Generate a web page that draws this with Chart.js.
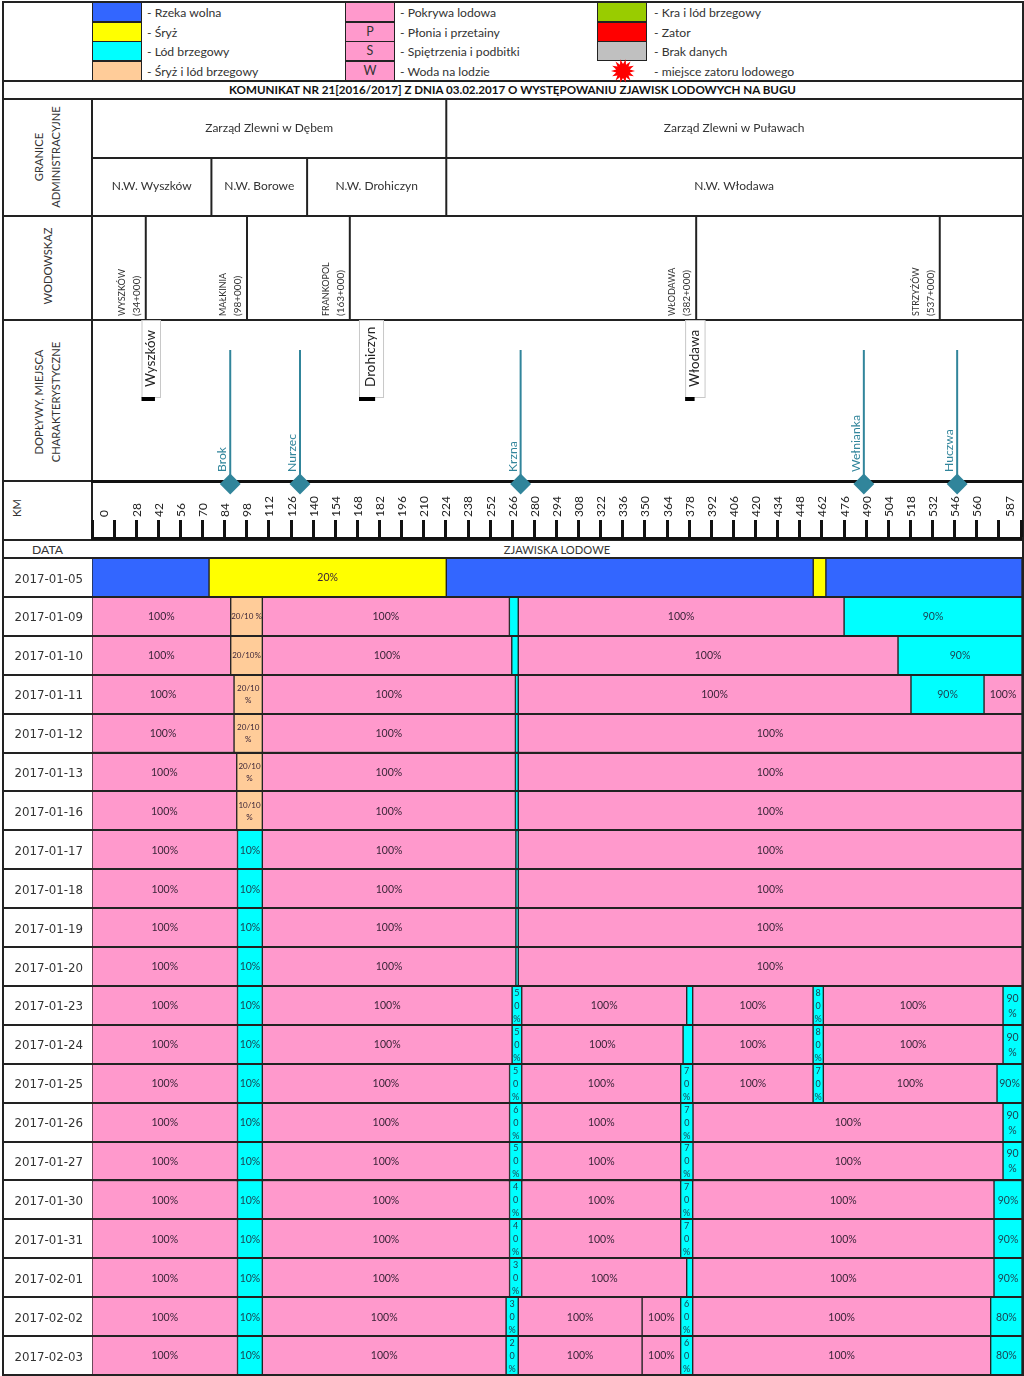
<!DOCTYPE html>
<html lang="pl">
<head>
<meta charset="utf-8">
<title>Komunikat 21</title>
<script src="https://cdn.jsdelivr.net/npm/chart.js@4"></script>
<style>
html,body{margin:0;padding:0;background:#fff;}
#page{position:relative;width:1024px;height:1376px;overflow:hidden;font-family:Lato,sans-serif;color:#333;}
#page canvas{position:absolute;left:0;}
.h{position:absolute;background:#222;height:2px;}
.v{position:absolute;background:#222;width:2px;}
.sw{position:absolute;width:50px;box-sizing:border-box;border:1px solid #222;text-align:center;font-size:12.5px;line-height:18px;}
.t{position:absolute;font-size:12.2px;line-height:19px;white-space:nowrap;}
.rot{position:absolute;font-size:11.2px;line-height:17px;text-align:center;white-space:nowrap;transform:translate(-50%,-50%) rotate(-90deg);}
</style>
</head>
<body>
<div id="page">
  <canvas id="topChart" width="1024" height="400" style="top:100px;z-index:2"></canvas>
  <canvas id="kmChart" width="1024" height="52" style="top:490px;z-index:1"></canvas>
  <canvas id="rowsChart" width="1024" height="819" style="top:557px;z-index:1"></canvas>
</div>
<script>
// km axis
const kmMax = 588;
const tickValues = [0,7,14,28,42,56,70,84,98,112,126,140,154,168,182,196,210,224,238,252,266,280,294,308,322,336,350,364,378,392,406,420,434,448,462,476,490,504,518,532,546,560,574,581,588];
const tickLabels = ['','0','','28','42','56','70','84','98','112','126','140','154','168','182','196','210','224','238','252','266','280','294','308','322','336','350','364','378','392','406','420','434','448','462','476','490','504','518','532','546','560','','587',''];
const labelOnlyTicks = [7,581];

// header
const adminNames = ['Zarząd Zlewni w Dębem','Zarząd Zlewni w Puławach'];
const adminEnds = [224,588];
const unitNames = ['N.W. Wyszków','N.W. Borowe','N.W. Drohiczyn','N.W. Włodawa'];
const unitEnds = [75.5,136,224,588];
const gaugeNames = ['WYSZKÓW','MAŁKINIA','FRANKOPOL','WŁODAWA','STRZYŻÓW'];
const gaugeChain = ['(34+000)','(98+000)','(163+000)','(382+000)','(537+000)'];
const gaugeKm = [34,98,163,382,536];
const tribNames = ['Brok','Nurzec','Krzna','Wełnianka','Huczwa'];
const tribKm = [87.4,131.5,271,488,547];
const townNames = ['Wyszków','Drohiczyn','Włodawa'];
const townBoxFrom = [31.3,168.8,375];
const townBoxTo = [43,184,387.3];
const townBarTo = [39.8,179,381];

// rows
const dates = ['2017-01-05','2017-01-09','2017-01-10','2017-01-11','2017-01-12','2017-01-13','2017-01-16','2017-01-17','2017-01-18','2017-01-19','2017-01-20','2017-01-23','2017-01-24','2017-01-25','2017-01-26','2017-01-27','2017-01-30','2017-01-31','2017-02-01','2017-02-02','2017-02-03'];
const segEnds = [
  [74,224,456,464,588],
  [87.7,107.7,263.9,269.5,475.5,588],
  [87.7,107.7,265.4,269.5,509.6,588],
  [89.8,107.7,267.7,269.5,517.8,564,588],
  [89.8,107.7,267.7,269.5,588],
  [91.5,107.7,267.7,269.5,588],
  [91.5,107.7,267.7,269.5,588],
  [92,107.7,268,269.5,588],
  [92,107.7,268,269.5,588],
  [92,107.7,268,269.5,588],
  [92,107.7,268,269.5,588],
  [92,107.7,265.6,271.7,376,379.8,455.9,462.4,576,588],
  [92,107.7,265.6,271.7,373.7,379.8,455.9,462.4,576,588],
  [92,107.7,264,271.7,372.2,379.8,455.9,462.4,572.2,588],
  [92,107.7,264,271.9,372.2,380,576,588],
  [92,107.7,264,271.9,372.2,380,576,588],
  [92,107.7,264,271.7,372.2,379.8,570.3,588],
  [92,107.7,264,271.7,372.2,379.8,570.3,588],
  [92,107.7,264,271.7,376,379.8,570.3,588],
  [92,107.7,261.8,269.5,347.8,372.2,379.8,568.2,588],
  [92,107.7,261.8,269.5,347.8,372.2,379.8,568.2,588]
];
// R rzeka wolna, S sryz, L lod brzegowy, M sryz i lod, P pokrywa
const segKinds = ['RSRSR','PMPLPL','PMPLPL','PMPLPLP','PMPLP','PMPLP','PMPLP','PLPLP','PLPLP','PLPLP','PLPLP','PLPLPLPLPL','PLPLPLPLPL','PLPLPLPLPL','PLPLPLPL','PLPLPLPL','PLPLPLPL','PLPLPLPL','PLPLPLPL','PLPLPPLPL','PLPLPPLPL'];
const segLabels = [
  ['','20%','','',''],
  ['100%','20/10 %','100%','','100%','90%'],
  ['100%','20/10%','100%','','100%','90%'],
  ['100%','20/10\n%','100%','','100%','90%','100%'],
  ['100%','20/10\n%','100%','','100%'],
  ['100%','20/10\n%','100%','','100%'],
  ['100%','10/10\n%','100%','','100%'],
  ['100%','10%','100%','','100%'],
  ['100%','10%','100%','','100%'],
  ['100%','10%','100%','','100%'],
  ['100%','10%','100%','','100%'],
  ['100%','10%','100%','5\n0\n%','100%','','100%','8\n0\n%','100%','90\n%'],
  ['100%','10%','100%','5\n0\n%','100%','','100%','8\n0\n%','100%','90\n%'],
  ['100%','10%','100%','5\n0\n%','100%','7\n0\n%','100%','7\n0\n%','100%','90%'],
  ['100%','10%','100%','6\n0\n%','100%','7\n0\n%','100%','90\n%'],
  ['100%','10%','100%','5\n0\n%','100%','7\n0\n%','100%','90\n%'],
  ['100%','10%','100%','4\n0\n%','100%','7\n0\n%','100%','90%'],
  ['100%','10%','100%','4\n0\n%','100%','7\n0\n%','100%','90%'],
  ['100%','10%','100%','3\n0\n%','100%','','100%','90%'],
  ['100%','10%','100%','3\n0\n%','100%','100%','6\n0\n%','100%','80%'],
  ['100%','10%','100%','2\n0\n%','100%','100%','6\n0\n%','100%','80%']
];
const kindColors = {R:'#3366ff',S:'#ffff00',L:'#00ffff',M:'#ffcc99',P:'#ff99cc'};

// legend
const legendCol1 = ['- Rzeka wolna','- Śryż','- Lód brzegowy','- Śryż i lód brzegowy'];
const legendCol1Colors = ['#3366ff','#ffff00','#00ffff','#ffcc99'];
const legendCol2 = ['- Pokrywa lodowa','- Płonia i przetainy','- Spiętrzenia i podbitki','- Woda na lodzie'];
const legendCol2Marks = ['','P','S','W'];
const legendCol3 = ['- Kra i lód brzegowy','- Zator','- Brak danych','- miejsce zatoru lodowego'];
const legendCol3Colors = ['#99cc00','#ff0000','#c0c0c0'];

const page = document.getElementById('page');
function add(cls, css, txt){
  var d = document.createElement('div');
  d.className = cls;
  d.style.cssText = css;
  if(txt!==undefined) d.innerHTML = txt;
  page.appendChild(d);
  return d;
}

// frame
[1,80,98,214.5,318.5,538.5,557].forEach(function(y){
  add('h','left:3px;width:1021px;top:'+y+'px');
});
add('h','left:92px;width:932px;top:156.5px');
add('h','left:3px;width:90px;top:480px;');
add('v','left:2px;top:1px;height:1375px');
add('v','left:1021.5px;top:1px;height:1375px');
add('v','left:91px;top:99px;height:440px');

// legend
const legendY = [2,21.5,41,60.5];
legendCol1.forEach(function(txt,i){
  add('sw','left:92px;top:'+legendY[i]+'px;height:20px;background:'+legendCol1Colors[i]);
  add('t','left:147px;top:'+(legendY[i]+1)+'px',txt);
});
legendCol2.forEach(function(txt,i){
  add('sw','left:345px;top:'+legendY[i]+'px;height:20px;background:#ff99cc',legendCol2Marks[i]);
  add('t','left:400px;top:'+(legendY[i]+1)+'px',txt);
});
legendCol3.forEach(function(txt,i){
  if(i<3) add('sw','left:597px;top:'+legendY[i]+'px;height:20px;background:'+legendCol3Colors[i]);
  add('t','left:654px;top:'+(legendY[i]+1)+'px',txt);
});
// red burst
var pts = [];
for(var i=0;i<28;i++){
  var r = i%2==0 ? 12 : 7;
  var a = i*Math.PI/14;
  pts.push((12+r*Math.cos(a)).toFixed(1)+','+(12+r*Math.sin(a)).toFixed(1));
}
add('','position:absolute;left:611px;top:59px;width:24px;height:24px','<svg width="24" height="24"><polygon fill="#ff0000" points="'+pts.join(' ')+'"/></svg>');

add('t','left:3px;width:1019px;top:79.5px;text-align:center;font-weight:bold;color:#111;font-size:11.6px','KOMUNIKAT NR 21[2016/2017] Z DNIA 03.02.2017 O WYSTĘPOWANIU ZJAWISK LODOWYCH NA BUGU');
add('rot','left:47px;top:157px','GRANICE<br>ADMINISTRACYJNE');
add('rot','left:47px;top:266px','WODOWSKAZ');
add('rot','left:47px;top:402px','DOPŁYWY, MIEJSCA<br>CHARAKTERYSTYCZNE');
add('rot','left:16px;top:508px','KM');
add('t','left:3px;width:89px;top:539.5px;text-align:center','DATA');
add('t','left:446px;width:222px;top:539.5px;text-align:center;font-size:11.2px','ZJAWISKA LODOWE');

function lineSet(x1,y1,x2,y2,color,width){
  return {data:[{x:x1,y:y1},{x:x2,y:y2}],showLine:true,borderColor:color,borderWidth:width,pointRadius:0,clip:false};
}

// y values of the top chart are measured up from the thick line
const rowLevel = {gaugeBottom:161,unitBottom:265,unitTop:324,top:381,tribTop:131,boxBottom:84,townBar:82,diamond:-3};

var topSets = [];
gaugeKm.forEach(function(km){
  topSets.push(lineSet(km,rowLevel.gaugeBottom,km,rowLevel.unitBottom,'#222',2));
});
adminEnds.slice(0,1).forEach(function(km){
  topSets.push(lineSet(km,rowLevel.unitBottom,km,rowLevel.top,'#222',2));
});
unitEnds.slice(0,2).forEach(function(km){
  topSets.push(lineSet(km,rowLevel.unitBottom,km,rowLevel.unitTop,'#222',2));
});
tribKm.forEach(function(km){
  var s = lineSet(km,rowLevel.diamond,km,rowLevel.tribTop,'#31859b',2);
  s.pointRadius = [9,0];
  s.pointStyle = 'rectRot';
  s.pointBackgroundColor = '#31859b';
  s.pointBorderColor = '#31859b';
  topSets.push(s);
});
townBoxFrom.forEach(function(km,i){
  topSets.push(lineSet(km,rowLevel.townBar,townBarTo[i],rowLevel.townBar,'#000',4));
});

function vText(ctx,txt,x,y){
  ctx.save();
  ctx.translate(x,y);
  ctx.rotate(-Math.PI/2);
  ctx.fillText(txt,0,0);
  ctx.restore();
}

const topText = {
  id:'topText',
  beforeDatasetsDraw:function(chart){
    var ctx = chart.ctx, xs = chart.scales.x, ys = chart.scales.y;
    ctx.save();
    townBoxFrom.forEach(function(km,i){
      var l = xs.getPixelForValue(km), r = xs.getPixelForValue(townBoxTo[i]);
      var t = ys.getPixelForValue(rowLevel.gaugeBottom), b = ys.getPixelForValue(rowLevel.boxBottom);
      ctx.fillStyle = '#fff';
      ctx.fillRect(l,t,r-l,b-t);
      ctx.strokeStyle = '#c8c8c8';
      ctx.lineWidth = 1;
      ctx.strokeRect(l+.5,t+.5,r-l,b-t);
    });
    ctx.restore();
  },
  afterDatasetsDraw:function(chart){
    var ctx = chart.ctx, xs = chart.scales.x, ys = chart.scales.y;
    ctx.save();
    ctx.fillStyle = '#333';
    ctx.textAlign = 'center';
    ctx.textBaseline = 'middle';
    ctx.font = '12px Lato';
    var from = 0;
    adminNames.forEach(function(n,i){
      ctx.fillText(n,xs.getPixelForValue((from+adminEnds[i])/2),ys.getPixelForValue(353));
      from = adminEnds[i];
    });
    from = 0;
    unitNames.forEach(function(n,i){
      ctx.fillText(n,xs.getPixelForValue((from+unitEnds[i])/2),ys.getPixelForValue(295));
      from = unitEnds[i];
    });
    ctx.textAlign = 'left';
    gaugeKm.forEach(function(km,i){
      var x = xs.getPixelForValue(km), y = ys.getPixelForValue(rowLevel.gaugeBottom)-4;
      ctx.font = '9px Lato';
      vText(ctx,gaugeNames[i],x-24,y);
      ctx.font = '10px Lato';
      vText(ctx,gaugeChain[i],x-9,y);
    });
    ctx.font = '12.2px Lato';
    ctx.fillStyle = '#31859b';
    tribKm.forEach(function(km,i){
      vText(ctx,tribNames[i],xs.getPixelForValue(km)-8,ys.getPixelForValue(0)-9);
    });
    ctx.font = '13.5px Lato';
    ctx.fillStyle = '#222';
    townBoxFrom.forEach(function(km,i){
      var mid = (km+townBoxTo[i])/2;
      vText(ctx,townNames[i],xs.getPixelForValue(mid),ys.getPixelForValue(rowLevel.boxBottom)-10);
    });
    ctx.restore();
  }
};

new Chart(document.getElementById('topChart'),{
  type:'scatter',
  data:{datasets:topSets},
  plugins:[topText],
  options:{
    responsive:false,animation:false,devicePixelRatio:1,
    layout:{autoPadding:false,padding:{left:92,right:2,top:0,bottom:19}},
    plugins:{legend:{display:false},tooltip:{enabled:false}},
    scales:{
      x:{type:'linear',min:0,max:kmMax,ticks:{display:false},grid:{display:false,drawTicks:false},
         border:{display:true,color:'#111',width:3},afterFit:function(s){s.height=0;}},
      y:{type:'linear',min:0,max:rowLevel.top,display:false}
    }
  }
});

new Chart(document.getElementById('kmChart'),{
  type:'scatter',
  data:{datasets:[]},
  options:{
    responsive:false,animation:false,devicePixelRatio:1,
    layout:{autoPadding:false,padding:{left:92,right:2,top:0,bottom:2}},
    plugins:{legend:{display:false},tooltip:{enabled:false}},
    scales:{
      x:{type:'linear',position:'top',min:0,max:kmMax,
         afterBuildTicks:function(s){s.ticks = tickValues.map(function(v){return {value:v};});},
         afterFit:function(s){s.height=48;},
         ticks:{autoSkip:false,minRotation:90,maxRotation:90,padding:3,labelOffset:15,color:'#222',font:{family:'Lato',size:12},
           callback:function(v){return tickLabels[tickValues.indexOf(v)];}},
         grid:{drawOnChartArea:false,tickLength:18,tickWidth:3,
           tickColor:function(c){return labelOnlyTicks.indexOf(c.tick.value)>=0 ? 'rgba(0,0,0,0)' : '#111';}},
         border:{display:true,color:'#111',width:3}},
      y:{type:'linear',min:0,max:1,display:false}
    }
  }
});

// one dataset per segment slot, each row fills the slots it has
var slots = 0;
segEnds.forEach(function(r){ if(r.length>slots) slots = r.length; });
var rowSets = [];
for(var s=0;s<slots;s++){
  (function(s){
    rowSets.push({
      data:segEnds.map(function(r){
        if(s>=r.length) return null;
        return [s==0 ? 0 : r[s-1], r[s]];
      }),
      backgroundColor:segKinds.map(function(k){ return s<k.length ? kindColors[k[s]] : 'transparent'; }),
      borderColor:'#222',
      borderWidth:1,
      borderSkipped:false,
      barPercentage:1,
      categoryPercentage:1
    });
  })(s);
}

const segText = {
  id:'segText',
  afterDatasetsDraw:function(chart){
    var ctx = chart.ctx, xs = chart.scales.x, ys = chart.scales.y;
    ctx.save();
    ctx.textAlign = 'center';
    ctx.textBaseline = 'middle';
    segLabels.forEach(function(row,r){
      row.forEach(function(txt,i){
        if(!txt) return;
        var lines = txt.split('\n');
        var from = i==0 ? 0 : segEnds[r][i-1];
        var x = xs.getPixelForValue((from+segEnds[r][i])/2);
        var y = ys.getPixelForValue(r)+.5;
        var size = 10.5, lh = 15;
        if(lines.length==3){ size = 9; lh = 13; }
        if(segKinds[r][i]=='M'){ size = 8; lh = 12; }
        ctx.font = size+'px Lato';
        ctx.fillStyle = segKinds[r][i]=='L' ? '#1b4454' : '#3a2438';
        lines.forEach(function(l,n){
          ctx.fillText(l,x,y+(n-(lines.length-1)/2)*lh);
        });
      });
    });
    ctx.restore();
  }
};

new Chart(document.getElementById('rowsChart'),{
  type:'bar',
  data:{labels:dates,datasets:rowSets},
  plugins:[segText],
  options:{
    indexAxis:'y',
    responsive:false,animation:false,devicePixelRatio:1,
    layout:{padding:{left:3,right:2,top:1,bottom:1}},
    plugins:{legend:{display:false},tooltip:{enabled:false}},
    scales:{
      x:{type:'linear',min:0,max:kmMax,display:false},
      y:{stacked:true,afterFit:function(s){s.width=89;},
         grid:{offset:true,color:'#222',lineWidth:2,tickLength:89,z:1,drawOnChartArea:true},
         border:{display:false},
         ticks:{autoSkip:false,padding:-80,labelOffset:2,color:'#333',font:{family:'"DejaVu Sans"',size:11.8}}}
    }
  }
});
</script>
</body>
</html>
